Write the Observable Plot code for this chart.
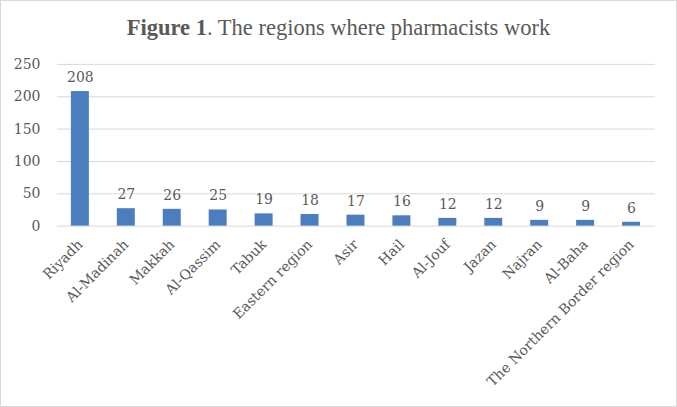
<!DOCTYPE html>
<html>
<head>
<meta charset="utf-8">
<script src="https://cdn.jsdelivr.net/npm/d3@7"></script>
<script src="https://cdn.jsdelivr.net/npm/@observablehq/plot@0.6"></script>
<style>
  html, body { margin: 0; padding: 0; background: #fff; }
  #frame { position: relative; width: 677px; height: 407px; box-sizing: border-box; border: 1px solid #d9d9d9; overflow: hidden; }
  #title { position: absolute; left: 0; right: 0; top: 14px; text-align: center; font-family: "Liberation Serif", "Times New Roman", serif; font-size: 22.5px; color: #595959; }
  #chart { position: absolute; left: -1px; top: -1px; }
  #chart svg text { font-family: 'DejaVu Serif', serif; }
</style>
</head>
<body>
<div id="frame">
  <div id="title"><b>Figure 1</b>. The regions where pharmacists work</div>
  <div id="chart"></div>
</div>
<script>
const regions = ["Riyadh", "Al-Madinah", "Makkah", "Al-Qassim", "Tabuk", "Eastern region", "Asir", "Hail", "Al-Jouf", "Jazan", "Najran", "Al-Baha", "The Northern Border region"];
const counts = [208, 27, 26, 25, 19, 18, 17, 16, 12, 12, 9, 9, 6];
const yTicks = [0, 50, 100, 150, 200, 250];

const data = regions.map((r, i) => ({region: r, count: counts[i]}));
const textColor = "#595959";
const font = "'DejaVu Serif', serif";

const chart = Plot.plot({
  width: 677,
  height: 407,
  marginTop: 64,
  marginBottom: 181,
  marginLeft: 57,
  marginRight: 21,
  style: {fontFamily: font, color: textColor, background: "transparent"},
  x: {domain: regions, paddingInner: 0.6, paddingOuter: 0.28, label: null},
  y: {domain: [0, 250], label: null},
  marks: [
    Plot.gridY(yTicks, {stroke: "#d9d9d9", strokeOpacity: 1, strokeWidth: 1}),
    Plot.barY(data, {x: "region", y: "count", fill: "#4a7ebf"}),
    Plot.text(data, {x: "region", y: "count", text: d => String(d.count), dy: -14, fill: textColor, fontSize: 14, fontFamily: font}),
    Plot.axisY(yTicks, {tickSize: 0, tickPadding: 17, fontSize: 14, fill: textColor, label: null}),
    Plot.axisX({tickSize: 0, tickPadding: 16, tickRotate: -45, fontSize: 14, fill: textColor, label: null})
  ]
});
document.getElementById("chart").appendChild(chart);
</script>
</body>
</html>
